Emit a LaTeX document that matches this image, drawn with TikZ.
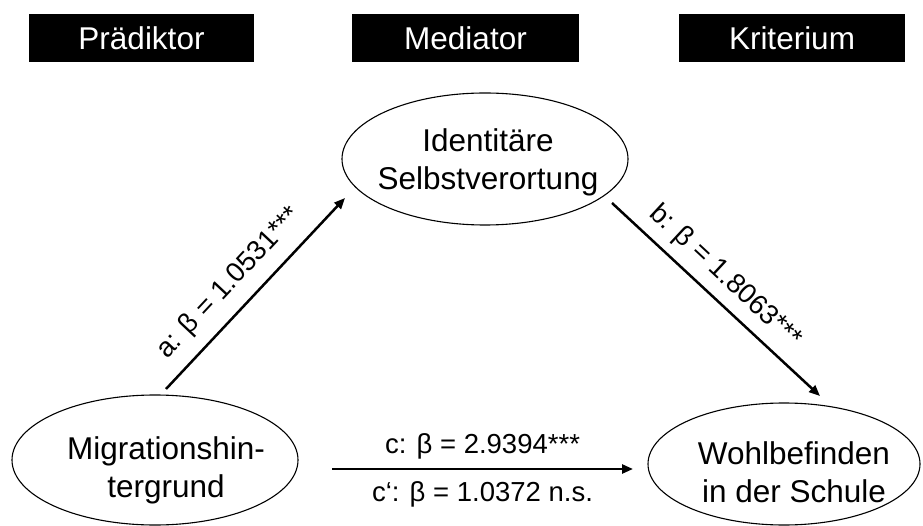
\documentclass[tikz,border=0pt]{standalone}
\usepackage{fontspec}
\setmainfont{Liberation Sans}
\usetikzlibrary{arrows.meta,shapes.geometric}
\begin{document}
\begin{tikzpicture}[x=1pt,y=-1pt,
 hdr/.style={fill=black, text=white, minimum width=225pt, minimum height=48pt, inner sep=0pt, font=\fontsize{31.5}{38}\selectfont},
 ell/.style={draw, ellipse, line width=1.1pt, inner sep=0pt},
 txt/.style={align=center, inner sep=0pt, font=\fontsize{31.5}{38}\selectfont},
 lbl/.style={inner sep=0pt, font=\fontsize{27.5}{33}\selectfont},
 arr/.style={line width=2.5pt, -{Triangle[length=11pt,width=9pt]}}]
\useasboundingbox (0,0) rectangle (923,526);
\node[hdr] (hp) at (141.5,38) {Prädiktor};
\node[hdr, minimum width=227pt] (hm) at (465.5,38) {Mediator};
\node[hdr, minimum width=226pt] (hk) at (792,38) {Kriterium};
\node[ell, minimum width=286pt, minimum height=132pt] (med) at (485,159) {};
\node[ell, minimum width=286pt, minimum height=130pt] (mig) at (155,460) {};
\node[ell, minimum width=272pt, minimum height=122pt] (wohl) at (784,464) {};
\node[txt] (medt) at (488,162) {Identitäre\\Selbstverortung};
\node[txt] (migt) at (166,470) {Migrationshin-\\tergrund};
\node[txt] (wohlt) at (794,472) {Wohlbefinden\\in der Schule};
\coordinate (a0) at (166,389);
\coordinate (a1) at (345,198);
\coordinate (b0) at (612,203);
\coordinate (b1) at (820,396);
\coordinate (c0) at (332,469);
\coordinate (c1) at (633,469);
\draw[arr] (a0) -- node[lbl, pos=0.46, sloped, above=12pt] (la) {a: β = 1.0531***} (a1);
\draw[arr] (b0) -- node[lbl, pos=0.47, sloped, above=9pt] (lb) {b: β = 1.8063***} (b1);
\draw[arr] (c0) -- node[lbl, pos=0.5, anchor=base, yshift=16pt] (lc) {c: β = 2.9394***}
                  node[lbl, pos=0.5, anchor=base, yshift=-32pt] (lc2) {c‘: β = 1.0372 n.s.} (c1);
\end{tikzpicture}
\end{document}
